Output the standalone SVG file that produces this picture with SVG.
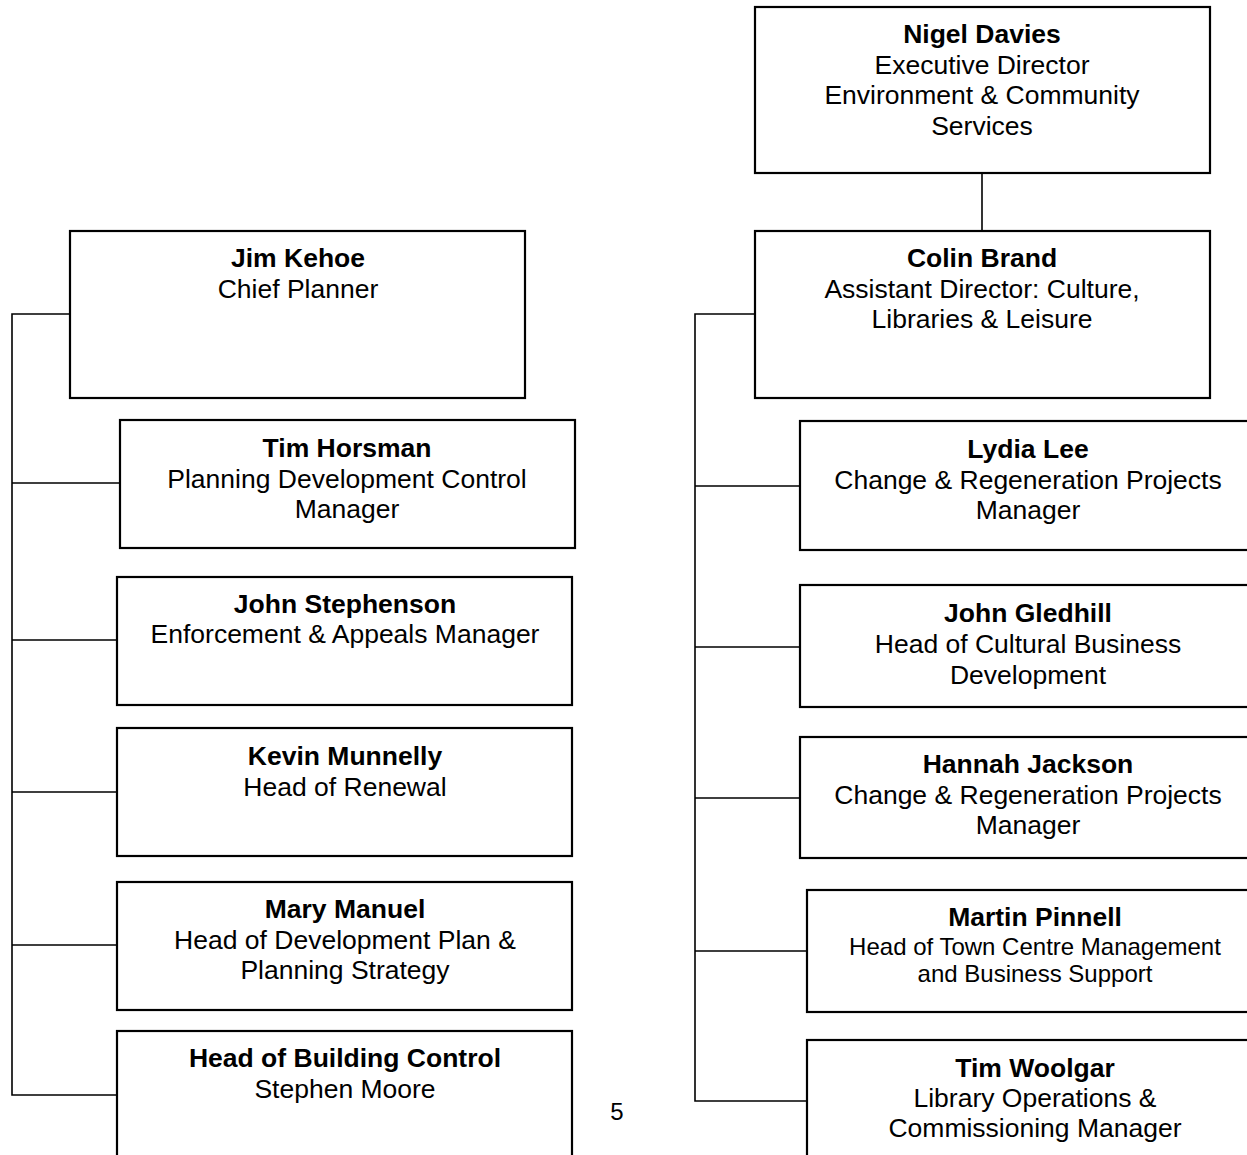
<svg xmlns="http://www.w3.org/2000/svg" width="1247" height="1155" viewBox="0 0 1247 1155">
<style>
.box{fill:#fff;stroke:#000;stroke-width:2.2}
.con{fill:none;stroke:#000;stroke-width:1.6}
text{font-family:"Liberation Sans",Arial,sans-serif;font-size:26.5px;text-anchor:middle;fill:#000}
.b{font-weight:bold}
.s{font-size:24px}
</style>
<rect width="1247" height="1155" fill="#fff"/>
<g id="connectors">
<line class="con" x1="982" y1="173" x2="982" y2="231"/>
<path class="con" d="M70 314H12V1095H117M12 483H120M12 640H117M12 792H117M12 945H117"/>
<path class="con" d="M755 314H695V1101H807M695 486H800M695 647H800M695 798H800M695 951H807"/>
</g>
<g id="nigel"><rect class="box" x="755" y="7" width="455" height="166"/>
<text x="982" y="43" class="b">Nigel Davies</text><text x="982" y="74">Executive Director</text><text x="982" y="104">Environment &amp; Community</text><text x="982" y="135">Services</text></g>
<g id="colin"><rect class="box" x="755" y="231" width="455" height="167"/>
<text x="982" y="267" class="b">Colin Brand</text><text x="982" y="298">Assistant Director: Culture,</text><text x="982" y="328">Libraries &amp; Leisure</text></g>
<g id="jim"><rect class="box" x="70" y="231" width="455" height="167"/>
<text x="298" y="267" class="b">Jim Kehoe</text><text x="298" y="298">Chief Planner</text></g>
<g id="horsman"><rect class="box" x="120" y="420" width="455" height="128"/>
<text x="347" y="457" class="b">Tim Horsman</text><text x="347" y="488">Planning Development Control</text><text x="347" y="518">Manager</text></g>
<g id="stephenson"><rect class="box" x="117" y="577" width="455" height="128"/>
<text x="345" y="613" class="b">John Stephenson</text><text x="345" y="643">Enforcement &amp; Appeals Manager</text></g>
<g id="munnelly"><rect class="box" x="117" y="728" width="455" height="128"/>
<text x="345" y="765" class="b">Kevin Munnelly</text><text x="345" y="796">Head of Renewal</text></g>
<g id="manuel"><rect class="box" x="117" y="882" width="455" height="128"/>
<text x="345" y="918" class="b">Mary Manuel</text><text x="345" y="949">Head of Development Plan &amp;</text><text x="345" y="979">Planning Strategy</text></g>
<g id="building"><rect class="box" x="117" y="1031" width="455" height="140"/>
<text x="345" y="1067" class="b">Head of Building Control</text><text x="345" y="1098">Stephen Moore</text></g>
<g id="lee"><rect class="box" x="800" y="421" width="460" height="129"/>
<text x="1028" y="458" class="b">Lydia Lee</text><text x="1028" y="489">Change &amp; Regeneration Projects</text><text x="1028" y="519">Manager</text></g>
<g id="gledhill"><rect class="box" x="800" y="585" width="460" height="122"/>
<text x="1028" y="622" class="b">John Gledhill</text><text x="1028" y="653">Head of Cultural Business</text><text x="1028" y="684">Development</text></g>
<g id="jackson"><rect class="box" x="800" y="737" width="460" height="121"/>
<text x="1028" y="773" class="b">Hannah Jackson</text><text x="1028" y="804">Change &amp; Regeneration Projects</text><text x="1028" y="834">Manager</text></g>
<g id="pinnell"><rect class="box" x="807" y="890" width="460" height="122"/>
<text x="1035" y="926" class="b">Martin Pinnell</text><text x="1035" y="955" class="s">Head of Town Centre Management</text><text x="1035" y="982" class="s">and Business Support</text></g>
<g id="woolgar"><rect class="box" x="807" y="1040" width="460" height="140"/>
<text x="1035" y="1077" class="b">Tim Woolgar</text><text x="1035" y="1107">Library Operations &amp;</text><text x="1035" y="1137">Commissioning Manager</text></g>
<text x="617" y="1120" class="s">5</text>
</svg>
